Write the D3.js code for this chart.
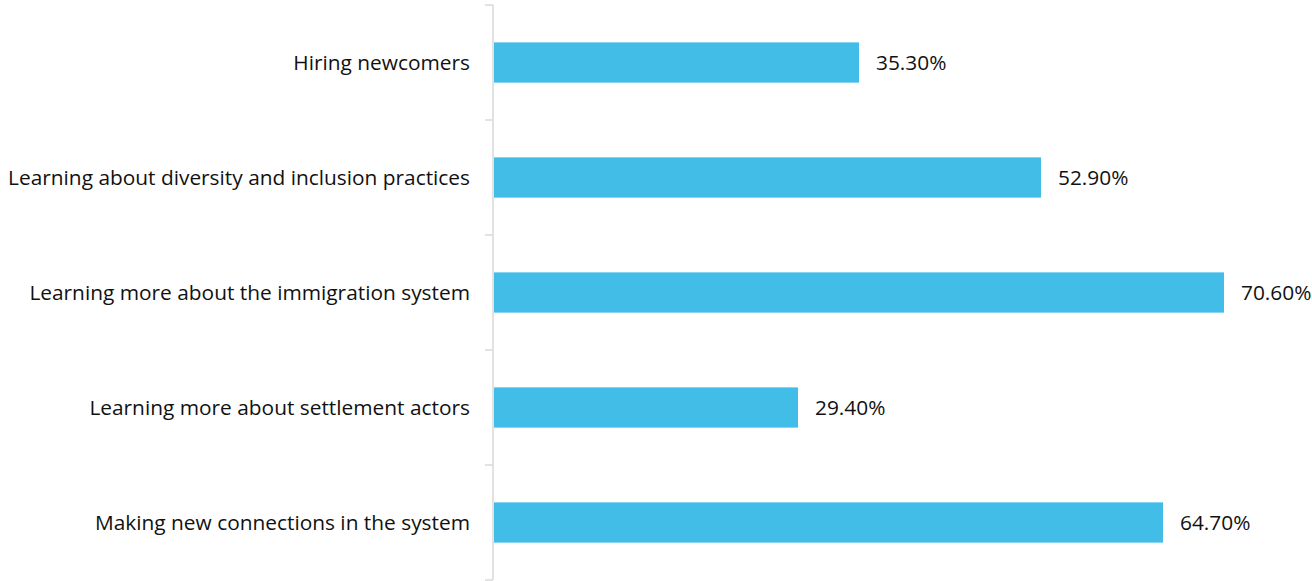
<!DOCTYPE html>
<html><head><meta charset="utf-8">
<script src="https://cdn.jsdelivr.net/npm/d3@7"></script>
<style>body{margin:0;background:#fff}text{font-family:"Open Sans",sans-serif}</style>
</head><body>
<svg id="c" width="1312" height="581"></svg>
<script>
const categories = ["Hiring newcomers","Learning about diversity and inclusion practices","Learning more about the immigration system","Learning more about settlement actors","Making new connections in the system"];
const values = [35.3, 52.9, 70.6, 29.4, 64.7];
const valueLabels = ["35.30%","52.90%","70.60%","29.40%","64.70%"];

const svg = d3.select("#c");
const axisX = 493;
const y = d3.scaleBand().domain(categories).range([5, 580]).paddingInner(0.65).paddingOuter(0.325);
const yTicks = d3.scaleBand().domain(categories).range([5, 580]);
const x = d3.scaleLinear().domain([0, 80]).range([494, 494 + 730 / 70.6 * 80]);

svg.append("line").attr("x1", axisX).attr("x2", axisX).attr("y1", 5).attr("y2", 580)
  .attr("stroke", "#d9d9d9").attr("stroke-width", 1.5);
const tickYs = categories.map(c => yTicks(c)).concat([580]);
svg.selectAll(".tk").data(tickYs).join("line").attr("class","tk")
  .attr("x1", axisX - 8).attr("x2", axisX).attr("y1", d => d).attr("y2", d => d)
  .attr("stroke", "#d9d9d9").attr("stroke-width", 1.5);

svg.selectAll(".bar").data(categories).join("rect").attr("class","bar")
  .attr("x", x(0)).attr("y", d => y(d))
  .attr("width", (d,i) => x(values[i]) - x(0)).attr("height", y.bandwidth())
  .attr("fill", "#41bde8");

// measure to fit font size: longest label spans ~462px in the reference
const probe = svg.append("text").attr("font-size", 20).text(categories[1]);
const fs = 20 * 462 / probe.node().getComputedTextLength();
probe.remove();

svg.selectAll(".cat").data(categories).join("text").attr("class","cat")
  .attr("x", 470).attr("y", d => y(d) + y.bandwidth()/2).attr("dy", "0.35em")
  .attr("text-anchor", "end").attr("font-size", fs).attr("fill", "#111").text(d => d);

svg.selectAll(".val").data(categories).join("text").attr("class","val")
  .attr("x", (d,i) => x(values[i]) + 17).attr("y", d => y(d) + y.bandwidth()/2).attr("dy", "0.35em")
  .attr("font-size", fs).attr("fill", "#111").text((d,i) => valueLabels[i]);
</script>
</body></html>
